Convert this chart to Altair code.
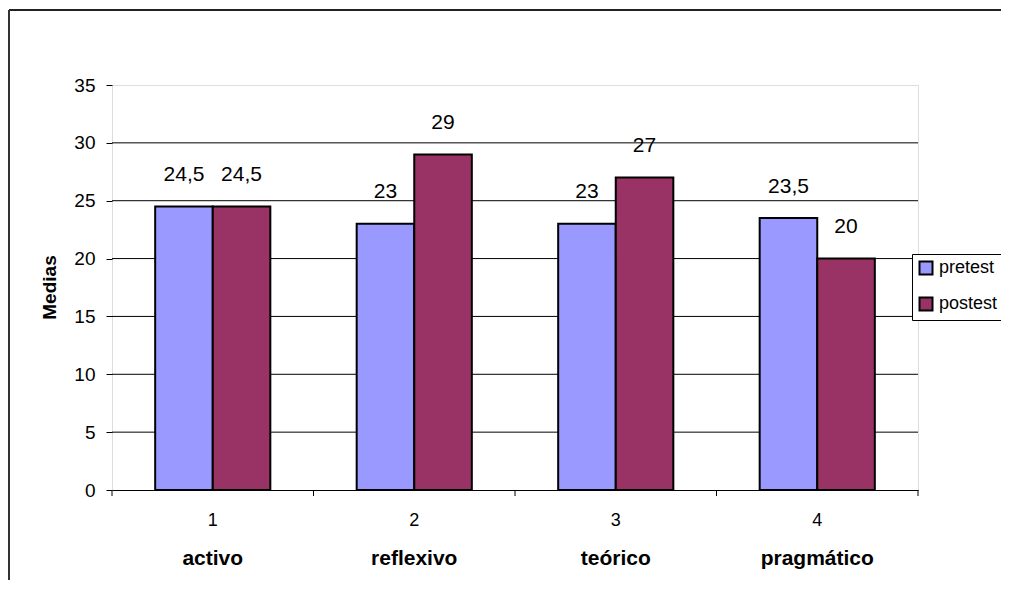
import altair as alt
import pandas as pd

categories = ["1", "2", "3", "4"]
styles = ["activo", "reflexivo", "teórico", "pragmático"]
series = ["pretest", "postest"]
pretest = [24.5, 23, 23, 23.5]
postest = [24.5, 29, 27, 20]
y_ticks = [0, 5, 10, 15, 20, 25, 30, 35]
colors = ["#9999FF", "#993366"]

rows = []
for s, vals in zip(series, [pretest, postest]):
    for c, st, v in zip(categories, styles, vals):
        rows.append({"cat": c, "style": st, "series": s, "value": v,
                     "label": f"{v:g}".replace(".", ",")})
df = pd.DataFrame(rows)
cat_df = pd.DataFrame({"cat": categories, "style": styles})
last_df = cat_df.tail(1)
grid_df = pd.DataFrame({"value": y_ticks[1:-1]})

FONT = "Liberation Sans"
W, H = 806, 405

xscale = alt.Scale(domain=categories, paddingInner=0, paddingOuter=0)
xaxis = alt.Axis(title=None, labelAngle=0, ticks=False, tickSize=0, labelPadding=21,
                 labelFontSize=18, labelColor="black", labelFont=FONT,
                 domainColor="black", domainWidth=1, grid=False)
yscale = alt.Scale(domain=[0, 35], nice=False, zero=True)
yaxis = alt.Axis(title=None, values=y_ticks, grid=False, domain=False, tickColor="black",
                 tickSize=6, tickWidth=1, labelPadding=11, labelFontSize=19,
                 labelColor="black", labelFont=FONT)

X = alt.X("cat:N", scale=xscale, axis=xaxis)
Y = alt.Y("value:Q", scale=yscale, axis=yaxis)
XO = alt.XOffset("series:N", sort=series,
                 scale=alt.Scale(domain=series, paddingInner=0, paddingOuter=0.75))

grid = alt.Chart(grid_df).mark_rule(color="black", strokeWidth=1).encode(y=Y)

bars = alt.Chart(df).mark_bar(stroke="black", strokeWidth=2).encode(
    x=X, xOffset=XO, y=Y,
    color=alt.Color("series:N", sort=series,
                    scale=alt.Scale(domain=series, range=colors),
                    legend=alt.Legend(title=None, orient="none", legendX=800, legendY=169,
                                      symbolType="square", symbolSize=169,
                                      symbolStrokeColor="black", symbolStrokeWidth=2,
                                      labelFontSize=18, labelFont=FONT, labelColor="black",
                                      labelOffset=4, padding=5, rowPadding=14,
                                      strokeColor="black", fillColor="white")),
)

labels = alt.Chart(df).mark_text(dy=-31.5, baseline="middle", align="center",
                                 fontSize=21, font=FONT, color="black").encode(
    x=X, xOffset=XO, y=Y, text="label:N")

ticks0 = alt.Chart(cat_df).mark_rule(color="black", strokeWidth=1).encode(
    x=alt.X("cat:N", scale=xscale, axis=xaxis, bandPosition=0),
    y=alt.value(H), y2=alt.value(H + 6))
ticks1 = alt.Chart(last_df).mark_rule(color="black", strokeWidth=1).encode(
    x=alt.X("cat:N", scale=xscale, axis=xaxis, bandPosition=1),
    y=alt.value(H), y2=alt.value(H + 6))

names = alt.Chart(cat_df).mark_text(fontSize=21, fontWeight="bold", font=FONT,
                                    color="black", baseline="middle").encode(
    x=X, y=alt.value(474), text="style:N")

ytitle = alt.Chart(alt.Data(values=[{}])).mark_text(
    text="Medias", angle=270, fontSize=19, fontWeight="bold", font=FONT,
    color="black", baseline="middle", align="center").encode(
    x=alt.value(-62), y=alt.value(H / 2))

border_top = alt.Chart(alt.Data(values=[{}])).mark_rule(color="#222", strokeWidth=2).encode(
    x=alt.value(-103), x2=alt.value(W + 200), y=alt.value(-75))
border_left = alt.Chart(alt.Data(values=[{}])).mark_rule(color="#333", strokeWidth=2).encode(
    x=alt.value(-103), y=alt.value(-75), y2=alt.value(H + 200))

chart = alt.layer(grid, bars, labels, ticks0, ticks1, names, ytitle,
                  border_top, border_left).properties(
    width=W, height=H,
    autosize=alt.AutoSizeParams(type="none"),
    padding={"left": 104, "top": 77, "right": 83, "bottom": 90},
).configure_view(
    fill="#C0C0C0", stroke="#808080", strokeWidth=2
).configure(background="white")

chart.save("out.html", embed_options={"renderer": "svg", "actions": False})
